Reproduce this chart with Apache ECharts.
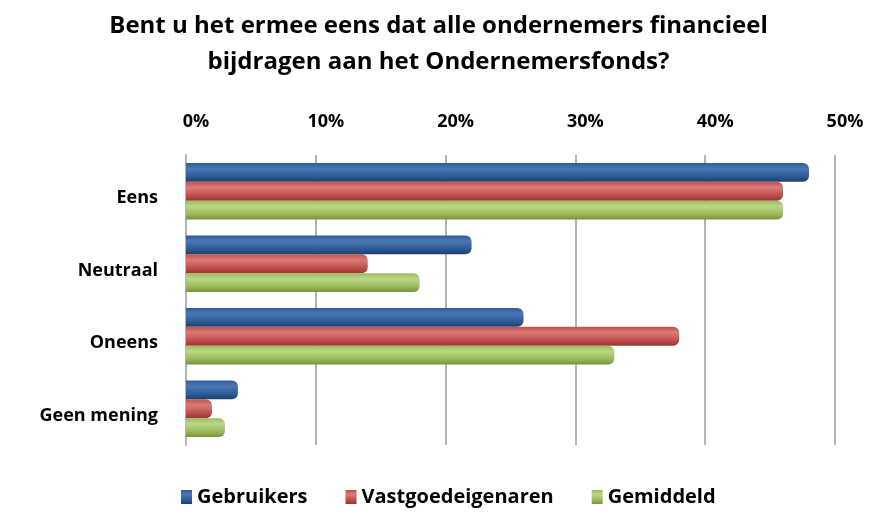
<!DOCTYPE html>
<html>
<head>
<meta charset="utf-8">
<script src="https://cdn.jsdelivr.net/npm/echarts@6/dist/echarts.min.js"></script>
<style>
  html, body { margin: 0; padding: 0; background: #fff; }
  #main { width: 877px; height: 516px; }
</style>
</head>
<body>
<div id="main"></div>
<script>
var categories = ["Eens", "Neutraal", "Oneens", "Geen mening"];
var seriesNames = ["Gebruikers", "Vastgoedeigenaren", "Gemiddeld"];
var gebruikers = [48, 22, 26, 4];
var vastgoed = [46, 14, 38, 2];
var gemiddeld = [46, 18, 33, 3];
var xTicks = [0, 10, 20, 30, 40, 50];

// kleuren: donker, midden, licht (cilinder effect)
var colors = [
    ["#1c3f6e", "#2f5c98", "#4a78b4"],
    ["#9a3533", "#c0504d", "#dc7a76"],
    ["#77933c", "#9bbb59", "#bcd68a"]
];

function cylinder(c) {
    return {
        type: "linear", x: 0, y: 0, x2: 0, y2: 1,
        colorStops: [
            { offset: 0, color: c[1] },
            { offset: 0.3, color: c[2] },
            { offset: 0.7, color: c[1] },
            { offset: 1, color: c[0] }
        ]
    };
}

var font = "'Open Sans', 'DejaVu Sans', sans-serif";
var data = [gebruikers, vastgoed, gemiddeld];
var series = [];
for (var i = 0; i < seriesNames.length; i++) {
    series.push({
        name: seriesNames[i],
        type: "bar",
        data: data[i],
        barGap: "0%",
        barCategoryGap: "22%",
        animation: false,
        itemStyle: {
            color: cylinder(colors[i]),
            borderRadius: [0, 6, 6, 0]
        }
    });
}

var myChart = echarts.init(document.getElementById("main"));
var option = {
    backgroundColor: "#fff",
    color: [colors[0][1], colors[1][1], colors[2][1]],
    title: {
        text: "Bent u het ermee eens dat alle ondernemers financieel\nbijdragen aan het Ondernemersfonds?",
        left: "center",
        top: 3,
        textStyle: {
            fontFamily: font,
            fontWeight: "bold",
            fontSize: 24,
            lineHeight: 36,
            color: "#000"
        }
    },
    legend: {
        data: seriesNames,
        bottom: 4,
        left: 176,
        icon: "rect",
        itemWidth: 11,
        itemHeight: 14,
        itemGap: 38,
        textStyle: { fontFamily: font, fontSize: 20, fontWeight: "bold", color: "#000" }
    },
    grid: { left: 186, right: 42, top: 155, height: 290 },
    xAxis: {
        type: "value",
        position: "top",
        min: xTicks[0],
        max: xTicks[xTicks.length - 1],
        interval: 10,
        axisLine: { show: false },
        axisTick: { show: false },
        axisLabel: {
            formatter: "{value}%",
            margin: 24,
            padding: [0, 0, 0, 20],
            fontFamily: font,
            fontSize: 18,
            fontWeight: "bold",
            color: "#000"
        },
        splitLine: { lineStyle: { color: "#b4b4b4", width: 2 } }
    },
    yAxis: {
        type: "category",
        data: categories,
        inverse: true,
        axisLine: { show: true, lineStyle: { color: "#b4b4b4", width: 2 } },
        axisTick: { show: false },
        axisLabel: {
            margin: 28,
            verticalAlign: "top",
            lineHeight: 14,
            fontFamily: font,
            fontSize: 18,
            fontWeight: "bold",
            color: "#000"
        }
    },
    series: series
};
myChart.setOption(option, true);
</script>
</body>
</html>
